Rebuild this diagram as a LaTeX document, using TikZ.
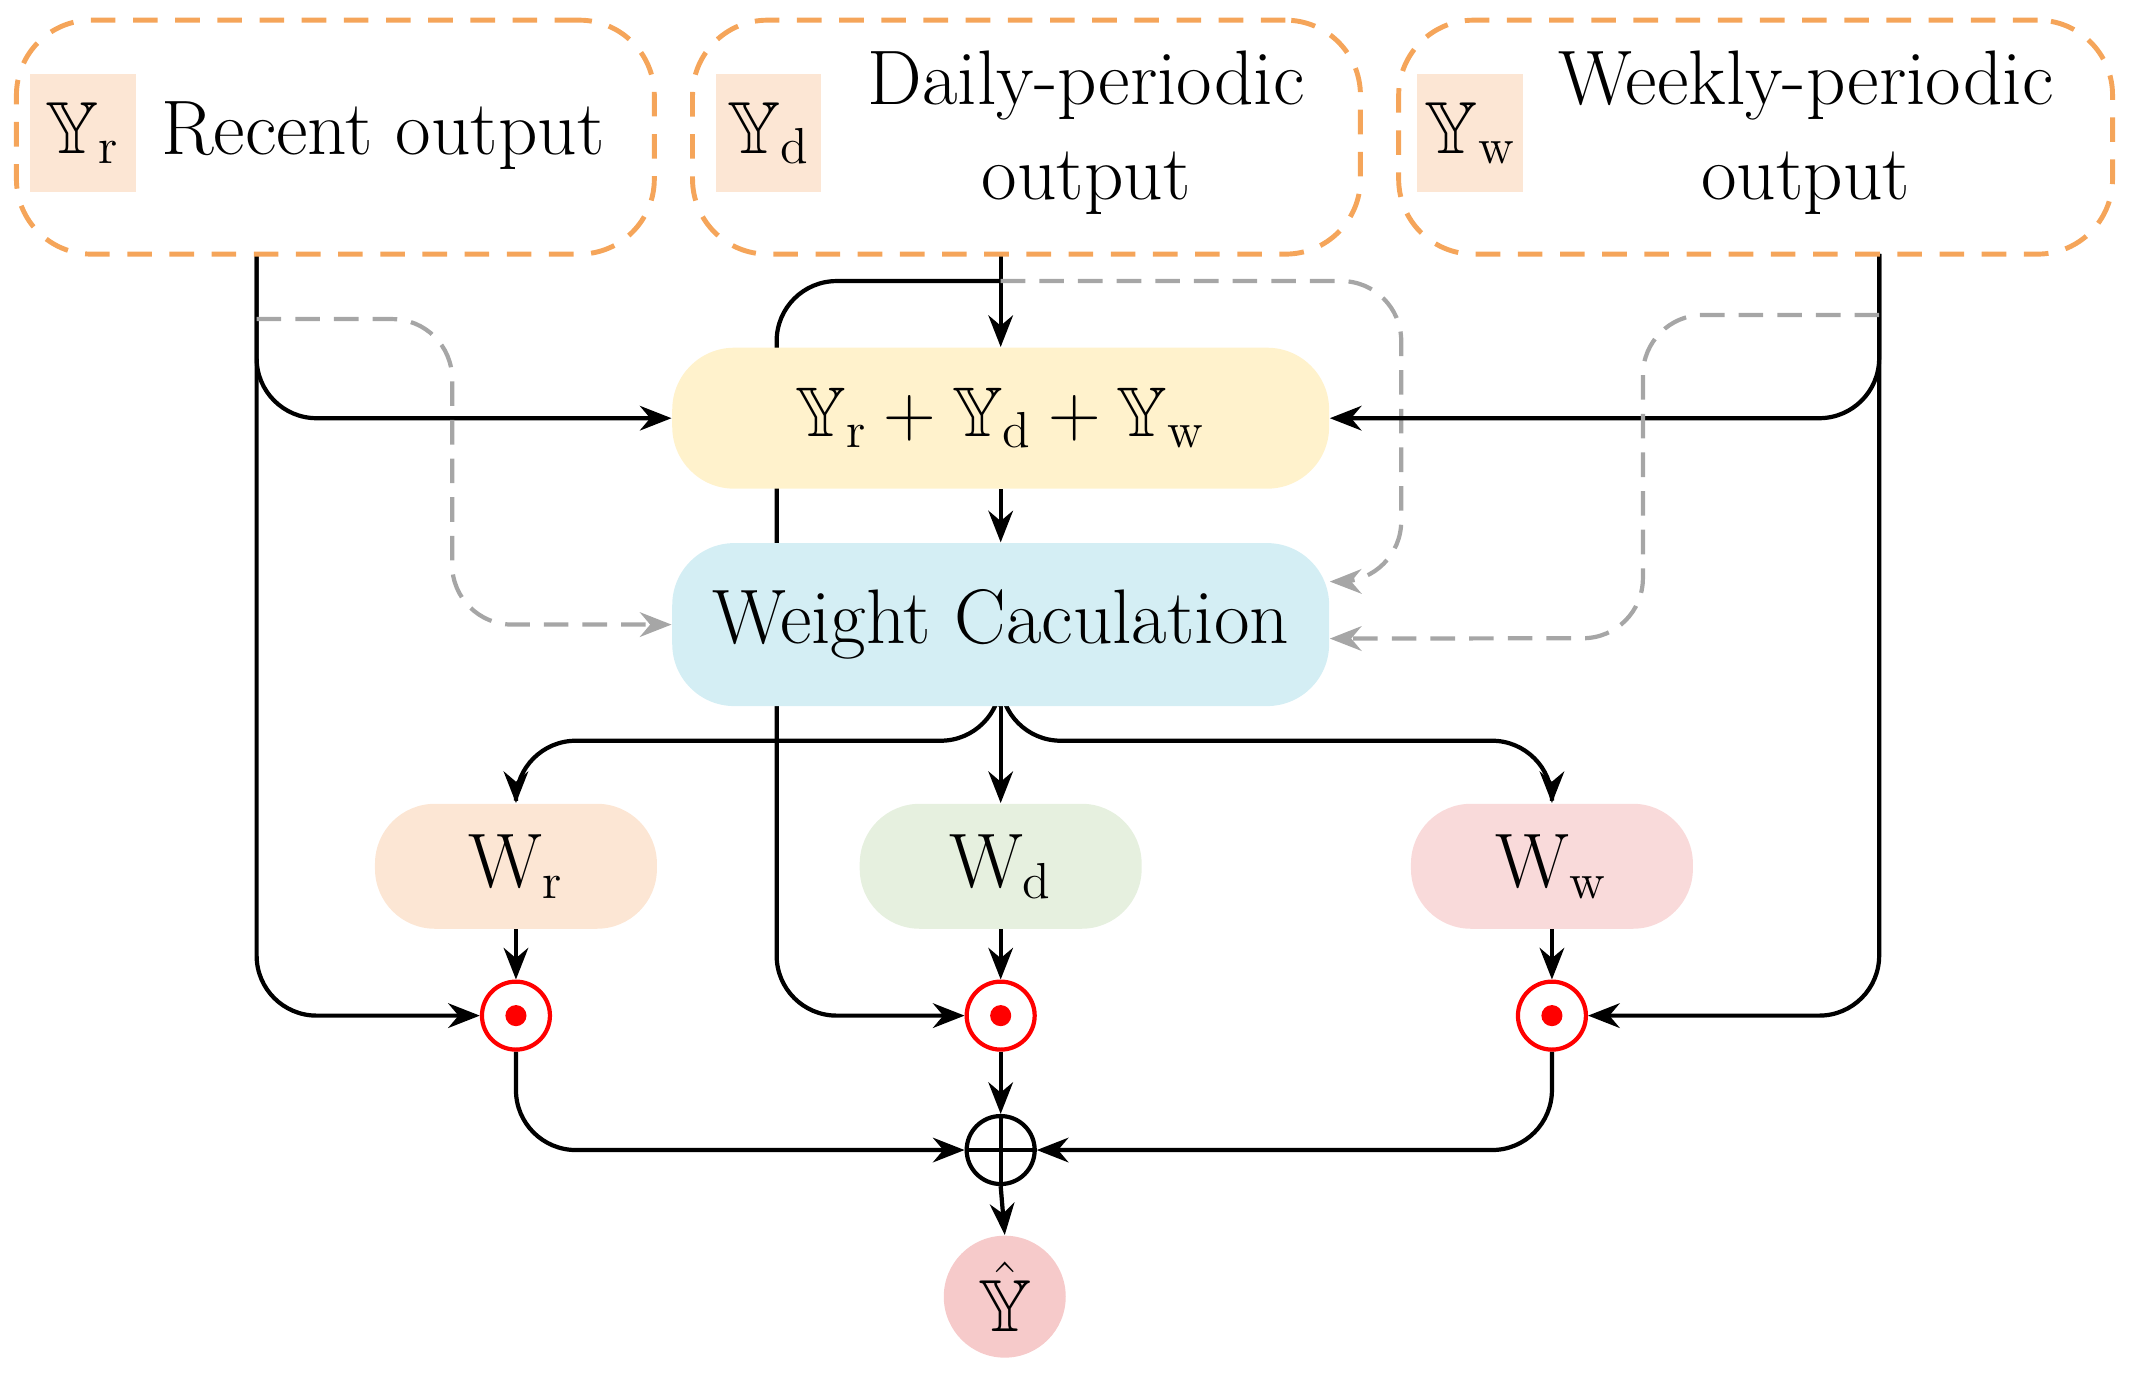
\documentclass[tikz,border=0pt]{standalone}
\usepackage{amssymb}
\usetikzlibrary{arrows.meta,backgrounds}
\definecolor{orng}{HTML}{F5A55A}
\definecolor{peach}{HTML}{FCE6D4}
\definecolor{yel}{HTML}{FFF2CC}
\definecolor{blu}{HTML}{D4EEF4}
\definecolor{grn}{HTML}{E6F0DF}
\definecolor{pnk}{HTML}{F9DADA}
\definecolor{hat}{HTML}{F6CACA}
\definecolor{gry}{HTML}{A6A6A6}
\begin{document}
\begin{tikzpicture}[x=0.01358cm,y=-0.01358cm,
  box/.style={draw=orng,dashed,dash pattern=on 7pt off 5pt,line width=1.4pt,rounded corners=0.75cm,minimum height=2.34cm},
  sq/.style={fill=peach,minimum width=1.06cm,minimum height=1.18cm,inner sep=0pt,font=\fontsize{21}{25}\selectfont},
  txt/.style={font=\fontsize{22}{27}\selectfont,align=center},
  pill/.style={rounded corners=0.62cm,minimum width=6.57cm,inner sep=0pt},
  wn/.style={rounded corners=0.6cm,minimum width=2.82cm,minimum height=1.25cm,font=\fontsize{22}{26}\selectfont},
  od/.style={circle,draw=red,fill=white,line width=1.2pt,minimum size=0.68cm,inner sep=0pt},
  arr/.style={line width=1.2pt,-{Stealth[length=9pt,width=7pt]},rounded corners=0.6cm},
  garr/.style={gry,line width=1.2pt,dash pattern=on 7pt off 4pt,-{Stealth[length=9pt,width=7pt]},rounded corners=0.6cm}]
\useasboundingbox (0,0) rectangle (1568,1016);
\node[box,minimum width=6.38cm] (b1) at (247,101) {};
\node[box,minimum width=6.68cm] (b2) at (756,101) {};
\node[box,minimum width=7.14cm] (b3) at (1293,101) {};
\node[sq] (s1) at (61,98) {$\mathbb{Y}_{\mathrm{r}}$};
\node[sq] (s2) at (566,98) {$\mathbb{Y}_{\mathrm{d}}$};
\node[sq] (s3) at (1083,98) {$\mathbb{Y}_{\mathrm{w}}$};
\node[txt] (t1) at (282,100) {Recent output};
\node[txt] (t2) at (800,98) {Daily-periodic\\output};
\node[txt] (t3) at (1330,98) {Weekly-periodic\\output};
\node[pill,fill=yel,minimum height=1.41cm,font=\fontsize{20}{24}\selectfont] (sum) at (737,308) {$\mathbb{Y}_{\mathrm{r}}+\mathbb{Y}_{\mathrm{d}}+\mathbb{Y}_{\mathrm{w}}$};
\node[pill,fill=blu,minimum height=1.63cm,font=\fontsize{22}{26}\selectfont] (wc) at (737,460) {Weight Caculation};
\node[wn,fill=peach] (wr) at (380,638) {W$_{\mathrm{r}}$};
\node[wn,fill=grn] (wd) at (737,638) {W$_{\mathrm{d}}$};
\node[wn,fill=pnk] (ww) at (1143,638) {W$_{\mathrm{w}}$};
\node[od] (o1) at (380,748) {}; \fill[red] (o1) circle (3pt);
\node[od] (o2) at (737,748) {}; \fill[red] (o2) circle (3pt);
\node[od] (o3) at (1143,748) {}; \fill[red] (o3) circle (3pt);
\node[circle,draw,fill=white,line width=1.2pt,minimum size=0.68cm,inner sep=0pt] (pl) at (737,847) {};
\draw[line width=1.2pt] (pl.north) -- (pl.south) (pl.west) -- (pl.east);
\node[circle,fill=hat,minimum size=1.22cm,inner sep=0pt,font=\fontsize{21}{25}\selectfont] (yh) at (740,955) {$\hat{\mathbb{Y}}$};
\begin{scope}[on background layer]
% recent
\draw[arr] (189,187) |- (sum.west);
\draw[arr] (189,187) |- (o1.west);
\draw[garr] (189,235) -- (333,235) -- (333,460) -- (wc.west);
% daily
\draw[arr] (737,187) -- (sum.north);
\draw[arr] (737,207) -- (572,207) -- (572,748) -- (o2.west);
\draw[garr] (737,207) -- (1032,207) -- (1032,428) -- ([yshift=0.43cm]wc.east);
% weekly
\draw[arr] (1384,187) |- (sum.east);
\draw[arr] (1384,187) |- (o3.east);
\draw[garr] (1384,232) -- (1210,232) -- (1210,470) -- ([yshift=-0.14cm]wc.east);
% weights
\draw[arr] (sum.south) -- (wc.north);
\draw[arr] (wc.south) -- ++(0,25) -| (wr.north);
\draw[arr] (wc.south) -- (wd.north);
\draw[arr] (wc.south) -- ++(0,25) -| (ww.north);
\draw[arr] (wr.south) -- (o1.north);
\draw[arr] (wd.south) -- (o2.north);
\draw[arr] (ww.south) -- (o3.north);
\draw[arr] (o1.south) |- (pl.west);
\draw[arr] (o3.south) |- (pl.east);
\draw[arr] (o2.south) -- (pl.north);
\draw[arr] (pl.south) -- (yh.north);
\end{scope}
\end{tikzpicture}
\end{document}
